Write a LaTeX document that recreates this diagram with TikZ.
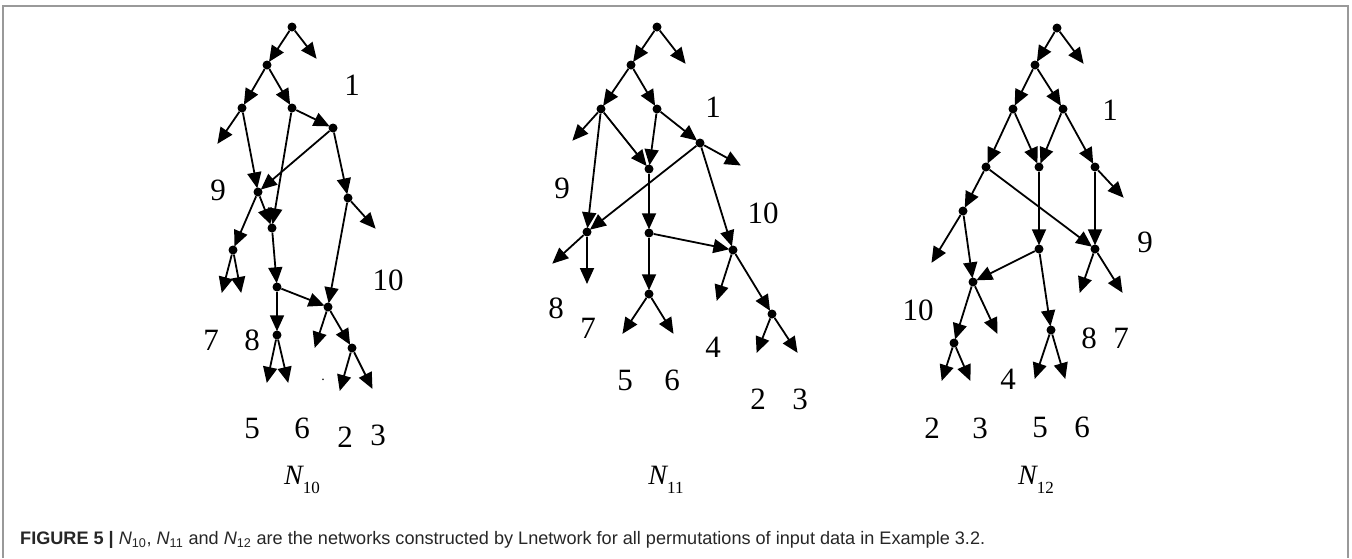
\documentclass[tikz,border=0pt]{standalone}
\usepackage{fontspec}
\setmainfont{Liberation Serif}
\newfontfamily\capfont{Liberation Sans}
\usetikzlibrary{arrows.meta}
\tikzset{
  dot/.style={circle, fill=black, inner sep=0pt, minimum size=9pt},
  arr/.style={-{Triangle[length=16pt,width=14pt]}, line width=1.8pt, shorten >=-1pt},
  lbl/.style={font=\fontsize{31}{31}\selectfont, inner sep=0pt},
  nlbl/.style={font=\fontsize{28}{28}\selectfont, inner sep=0pt},
  frame/.style={draw=black!40, line width=1.2pt}
}
\newcommand{\Nlab}[1]{{\itshape N}\raisebox{-9pt}{\fontsize{17}{17}\selectfont #1}}
\begin{document}
\begin{tikzpicture}[x=1pt,y=-1pt]
\useasboundingbox (0,0) rectangle (1352,558);
\coordinate (fr1) at (3,558);
\coordinate (fr2) at (3,6);
\coordinate (fr3) at (1348,6);
\coordinate (fr4) at (1348,558);
\draw[frame] (fr1) -- (fr2) -- (fr3) -- (fr4);

% ---------- N10 ----------
\node[dot] (a1) at (292,27) {};
\node[dot] (a2) at (267,65) {};
\node[dot] (a3) at (242,108) {};
\node[dot] (a4) at (292,108) {};
\node[dot] (a5) at (333,128) {};
\node[dot] (a6) at (258,192) {};
\node[dot] (a7) at (348,198) {};
\node[dot] (a8) at (272,228) {};
\node[dot] (a9) at (233,250) {};
\node[dot] (a10) at (277,287) {};
\node[dot] (a11) at (328,307) {};
\node[dot] (a12) at (277,335) {};
\node[dot] (a13) at (352,348) {};
\coordinate (af1) at (316,58);
\coordinate (af2) at (218,143);
\coordinate (af3) at (375,228);
\coordinate (af4) at (222,292);
\coordinate (af5) at (241,292);
\coordinate (af6) at (267,382);
\coordinate (af7) at (288,382);
\coordinate (af8) at (315,347);
\coordinate (af9) at (340,390);
\coordinate (af10) at (372,388);
\foreach \s/\t in {a1/a2,a1/af1,a2/a3,a2/a4,a3/af2,a3/a6,a4/a8,a4/a5,a5/a6,a5/a7,a7/af3,a7/a11,a6/a9,a6/a8,a9/af4,a9/af5,a8/a10,a10/a11,a10/a12,a12/af6,a12/af7,a11/af8,a11/a13,a13/af9,a13/af10}
  \draw[arr] (\s) -- (\t);
\node[lbl] (la1) at (352,85) {1};
\node[lbl] (la9) at (218,190) {9};
\node[lbl] (la10) at (388,280) {10};
\node[lbl] (la7) at (211,340) {7};
\node[lbl] (la8) at (252,340) {8};
\node[lbl] (la5) at (252,428) {5};
\node[lbl] (la6) at (302,428) {6};
\node[lbl] (la2) at (345,437) {2};
\node[lbl] (la3) at (378,435) {3};
\node[font=\fontsize{14}{14}\selectfont, inner sep=0pt] (adot) at (323,380) {.};

% ---------- N11 ----------
\node[dot] (b1) at (657,27) {};
\node[dot] (b2) at (631,65) {};
\node[dot] (b3) at (601,109) {};
\node[dot] (b4) at (657,109) {};
\node[dot] (b5) at (700,143) {};
\node[dot] (b6) at (649,169) {};
\node[dot] (b7) at (587,232) {};
\node[dot] (b8) at (649,233) {};
\node[dot] (b9) at (733,250) {};
\node[dot] (b10) at (649,294) {};
\node[dot] (b11) at (772,314) {};
\coordinate (bf1) at (685,63);
\coordinate (bf2) at (573,140);
\coordinate (bf3) at (740,165);
\coordinate (bf4) at (553,263);
\coordinate (bf5) at (587,283);
\coordinate (bf6) at (623,333);
\coordinate (bf7) at (673,333);
\coordinate (bf8) at (717,300);
\coordinate (bf9) at (757,352);
\coordinate (bf10) at (797,352);
\foreach \s/\t in {b1/b2,b1/bf1,b2/b3,b2/b4,b3/bf2,b3/b7,b3/b6,b4/b6,b4/b5,b5/bf3,b5/b7,b5/b9,b6/b8,b8/b9,b8/b10,b7/bf4,b7/bf5,b10/bf6,b10/bf7,b9/bf8,b9/b11,b11/bf9,b11/bf10}
  \draw[arr] (\s) -- (\t);
\node[lbl] (lb1) at (713,107) {1};
\node[lbl] (lb9) at (562,188) {9};
\node[lbl] (lb10) at (763,213) {10};
\node[lbl] (lb8) at (556,308) {8};
\node[lbl] (lb7) at (588,328) {7};
\node[lbl] (lb4) at (713,347) {4};
\node[lbl] (lb5) at (625,380) {5};
\node[lbl] (lb6) at (672,380) {6};
\node[lbl] (lb2) at (758,399) {2};
\node[lbl] (lb3) at (800,399) {3};

% ---------- N12 ----------
\node[dot] (c1) at (1057,28) {};
\node[dot] (c2) at (1035,65) {};
\node[dot] (c3) at (1013,109) {};
\node[dot] (c4) at (1063,109) {};
\node[dot] (c5) at (986,167) {};
\node[dot] (c6) at (1039,167) {};
\node[dot] (c7) at (1095,167) {};
\node[dot] (c8) at (963,211) {};
\node[dot] (c9) at (1095,249) {};
\node[dot] (c10) at (1039,249) {};
\node[dot] (c11) at (973,282) {};
\node[dot] (c12) at (954,343) {};
\node[dot] (c13) at (1051,330) {};
\coordinate (cf1) at (1083,63);
\coordinate (cf2) at (1123,197);
\coordinate (cf3) at (932,262);
\coordinate (cf4) at (1080,292);
\coordinate (cf5) at (1122,292);
\coordinate (cf6) at (997,333);
\coordinate (cf7) at (942,380);
\coordinate (cf8) at (970,380);
\coordinate (cf9) at (1035,378);
\coordinate (cf10) at (1065,378);
\foreach \s/\t in {c1/c2,c1/cf1,c2/c3,c2/c4,c3/c5,c3/c6,c4/c6,c4/c7,c7/cf2,c5/c8,c5/c9,c7/c9,c6/c10,c8/cf3,c8/c11,c10/c11,c10/c13,c9/cf4,c9/cf5,c11/cf6,c11/c12,c12/cf7,c12/cf8,c13/cf9,c13/cf10}
  \draw[arr] (\s) -- (\t);
\node[lbl] (lc1) at (1110,110) {1};
\node[lbl] (lc9) at (1145,242) {9};
\node[lbl] (lc10) at (918,310) {10};
\node[lbl] (lc8) at (1089,338) {8};
\node[lbl] (lc7) at (1121,338) {7};
\node[lbl] (lc4) at (1008,379) {4};
\node[lbl] (lc2) at (932,428) {2};
\node[lbl] (lc3) at (980,428) {3};
\node[lbl] (lc5) at (1040,427) {5};
\node[lbl] (lc6) at (1082,427) {6};

% ---------- network names ----------
\node[nlbl] (n10) at (302,480) {\Nlab{10}};
\node[nlbl] (n11) at (666,480) {\Nlab{11}};
\node[nlbl] (n12) at (1036,480) {\Nlab{12}};

% ---------- caption ----------
\node[anchor=west, inner sep=0pt, text=black!85] (cap) at (20,540)
  {\resizebox{965pt}{!}{\capfont\fontsize{14.5}{14.5}\selectfont\textbf{FIGURE 5 |} {\itshape N}\textsubscript{10}, {\itshape N}\textsubscript{11} and {\itshape N}\textsubscript{12} are the networks constructed by Lnetwork for all permutations of input data in Example 3.2.}};
\end{tikzpicture}
\end{document}
